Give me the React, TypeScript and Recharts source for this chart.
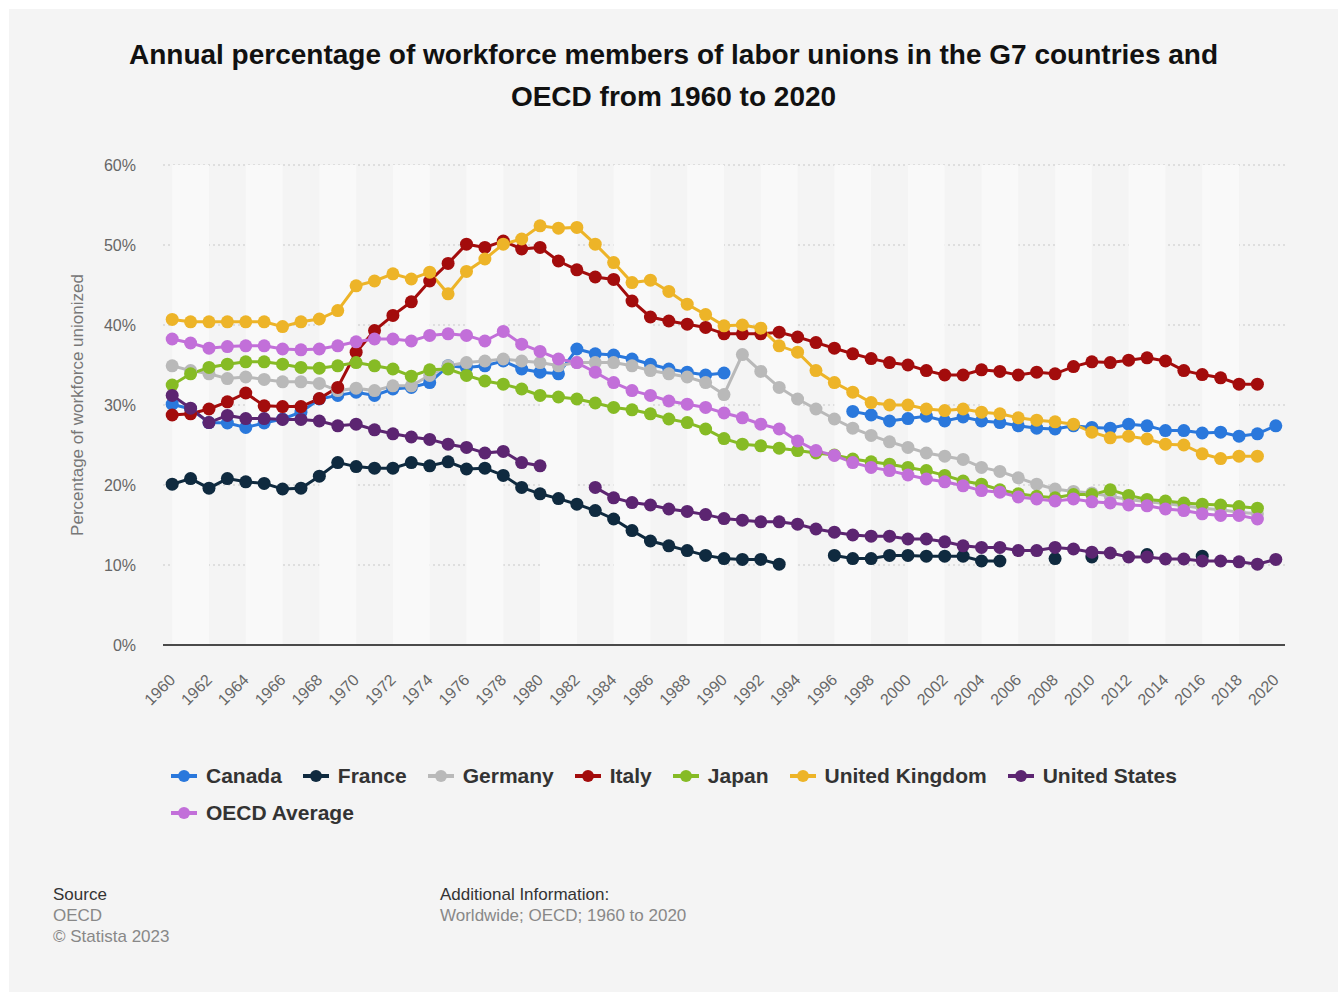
import React from 'react';
import {
  LineChart,
  Line,
  XAxis,
  YAxis,
  CartesianGrid,
  ReferenceArea,
} from 'recharts';

const years = Array.from({ length: 61 }, (_, i) => 1960 + i);

const canada = [
  30.1, 29.5, 27.8, 27.75, 27.2, 27.75, 28.25, 29.1, 30.75, 31.2,
  31.6, 31.2, 32.0, 32.2, 32.8, 34.9, 34.7, 34.9, 35.5, 34.5,
  34.1, 33.9, 37.0, 36.4, 36.25, 35.75, 35.1, 34.5, 34.1, 33.75,
  34.0, null, null, null, null, null, null, 29.2, 28.75, 28.0,
  28.3, 28.6, 28.0, 28.5, 28.0, 27.8, 27.4, 27.1, 27.0, 27.4,
  27.2, 27.1, 27.6, 27.4, 26.8, 26.8, 26.5, 26.6, 26.1, 26.4,
  27.4,
];

const france = [
  20.1, 20.8, 19.6, 20.8, 20.4, 20.2, 19.5, 19.6, 21.1, 22.8,
  22.3, 22.1, 22.1, 22.8, 22.4, 22.9, 22.0, 22.1, 21.2, 19.7,
  18.9, 18.3, 17.6, 16.8, 15.75, 14.3, 13.0, 12.4, 11.8, 11.2,
  10.8, 10.7, 10.7, 10.1, null, null, 11.2, 10.8, 10.8, 11.2,
  11.2, 11.1, 11.1, 11.1, 10.5, 10.5, null, null, 10.8, null,
  11.0, null, null, 11.3, null, null, 11.1, null, null, null,
  null,
];

const germany = [
  34.9, 34.3, 33.9, 33.3, 33.5, 33.2, 32.9, 32.9, 32.7, 31.8,
  32.1, 31.8, 32.4, 32.4, 33.7, 34.9, 35.3, 35.5, 35.75, 35.5,
  35.3, 34.9, 35.3, 35.3, 35.3, 34.9, 34.3, 33.9, 33.5, 32.8,
  31.3, 36.3, 34.2, 32.2, 30.75, 29.5, 28.25, 27.1, 26.2, 25.4,
  24.7, 24.0, 23.6, 23.2, 22.2, 21.7, 20.9, 20.1, 19.5, 19.2,
  19.0, 18.6, 18.2, 17.9, 17.7, 17.4, 17.1, 16.9, 16.6, 16.4,
  null,
];

const italy = [
  28.75, 28.9, 29.5, 30.4, 31.5, 29.9, 29.8, 29.8, 30.8, 32.2,
  36.6, 39.3, 41.2, 42.9, 45.5, 47.7, 50.1, 49.7, 50.5, 49.5,
  49.7, 48.0, 46.9, 46.0, 45.7, 43.0, 41.0, 40.5, 40.1, 39.7,
  38.9, 38.9, 38.9, 39.1, 38.5, 37.8, 37.1, 36.4, 35.8, 35.3,
  35.0, 34.3, 33.75, 33.75, 34.4, 34.2, 33.75, 34.1, 33.9, 34.8,
  35.4, 35.3, 35.6, 35.9, 35.5, 34.3, 33.8, 33.4, 32.6, 32.6,
  null,
];

const japan = [
  32.5, 33.9, 34.7, 35.1, 35.4, 35.4, 35.1, 34.7, 34.6, 34.9,
  35.3, 34.9, 34.5, 33.6, 34.4, 34.5, 33.7, 33.0, 32.6, 32.0,
  31.2, 31.0, 30.75, 30.25, 29.7, 29.4, 28.9, 28.25, 27.8, 27.0,
  25.8, 25.1, 24.9, 24.6, 24.3, 24.0, 23.75, 23.25, 22.9, 22.6,
  22.2, 21.8, 21.2, 20.5, 20.1, 19.4, 18.9, 18.6, 18.4, 18.8,
  18.8, 19.4, 18.7, 18.2, 18.0, 17.75, 17.6, 17.5, 17.3, 17.1,
  null,
];

const unitedKingdom = [
  40.7, 40.4, 40.4, 40.4, 40.4, 40.4, 39.8, 40.4, 40.75, 41.8,
  44.9, 45.5, 46.4, 45.75, 46.6, 43.9, 46.7, 48.25, 50.1, 50.75,
  52.4, 52.1, 52.2, 50.1, 47.8, 45.3, 45.6, 44.2, 42.6, 41.3,
  39.9, 40.0, 39.6, 37.4, 36.6, 34.3, 32.8, 31.6, 30.3, 30.0,
  30.0, 29.5, 29.3, 29.5, 29.1, 28.9, 28.4, 28.1, 27.9, 27.6,
  26.6, 25.9, 26.1, 25.75, 25.1, 25.0, 23.9, 23.3, 23.6, 23.6,
  null,
];

const unitedStates = [
  31.2, 29.6, 27.8, 28.7, 28.3, 28.3, 28.2, 28.2, 28.0, 27.4,
  27.6, 26.9, 26.4, 26.0, 25.7, 25.1, 24.7, 24.0, 24.2, 22.8,
  22.4, null, null, 19.7, 18.4, 17.8, 17.5, 17.0, 16.7, 16.3,
  15.8, 15.6, 15.4, 15.4, 15.1, 14.5, 14.1, 13.75, 13.6, 13.6,
  13.25, 13.25, 12.9, 12.4, 12.2, 12.2, 11.8, 11.8, 12.2, 12.0,
  11.6, 11.5, 11.0, 11.0, 10.75, 10.75, 10.5, 10.5, 10.4, 10.1,
  10.7,
];

const oecdAverage = [
  38.25, 37.75, 37.1, 37.3, 37.4, 37.4, 37.0, 36.9, 37.0, 37.4,
  37.9, 38.25, 38.25, 38.0, 38.7, 38.9, 38.7, 38.0, 39.2, 37.6,
  36.7, 35.75, 35.3, 34.1, 32.8, 31.8, 31.2, 30.5, 30.1, 29.7,
  29.0, 28.4, 27.6, 27.0, 25.5, 24.3, 23.7, 22.8, 22.2, 21.8,
  21.25, 20.75, 20.4, 19.9, 19.3, 19.1, 18.5, 18.25, 18.0, 18.25,
  17.9, 17.75, 17.5, 17.4, 17.0, 16.8, 16.4, 16.2, 16.2, 15.75,
  null,
];

const xTicks = years.filter((y) => y % 2 === 0);
const yTicks = [0, 10, 20, 30, 40, 50, 60];
const bandStarts = years.filter((y) => y % 4 === 0 && y < 2020);

const series = [
  { key: 'canada', name: 'Canada', color: '#2a78dc', values: canada },
  { key: 'france', name: 'France', color: '#0f2a3f', values: france },
  { key: 'germany', name: 'Germany', color: '#b9b9b9', values: germany },
  { key: 'italy', name: 'Italy', color: '#a30c0c', values: italy },
  { key: 'japan', name: 'Japan', color: '#86bb25', values: japan },
  { key: 'uk', name: 'United Kingdom', color: '#edb428', values: unitedKingdom },
  { key: 'us', name: 'United States', color: '#5c2571', values: unitedStates },
  { key: 'oecd', name: 'OECD Average', color: '#c26fd9', values: oecdAverage },
];

const data = years.map((year, i) => {
  const row: Record<string, number | null> = { year };
  series.forEach((s) => {
    row[s.key] = s.values[i];
  });
  return row;
});

const FONT = '"Liberation Sans", Arial, Helvetica, sans-serif';

const YearTick = ({ x, y, payload }: any) => {
  const tx = x + 4;
  const ty = y + 34;
  return (
    <text
      x={tx}
      y={ty}
      textAnchor="end"
      transform={`rotate(-45 ${tx} ${ty})`}
      fill="#666"
      fontSize={16}
      fontFamily={FONT}
    >
      {payload.value}
    </text>
  );
};

const LegendIcon = ({ color }: { color: string }) => (
  <svg width={28} height={14} style={{ marginRight: 8 }}>
    <line x1={1} y1={7} x2={27} y2={7} stroke={color} strokeWidth={4} />
    <circle cx={14} cy={7} r={6} fill={color} />
  </svg>
);

export default function App() {
  return (
    <div
      style={{
        position: 'absolute',
        left: 0,
        top: 0,
        width: 1340,
        height: 994,
        background: '#ffffff',
        fontFamily: FONT,
      }}
    >
      <div
        style={{
          position: 'absolute',
          left: 9,
          top: 9,
          width: 1329,
          height: 983,
          background: '#f4f4f4',
        }}
      />

      <div
        style={{
          position: 'absolute',
          left: 9,
          width: 1329,
          top: 34,
          textAlign: 'center',
          fontWeight: 'bold',
          fontSize: 28,
          lineHeight: '42px',
          color: '#111',
        }}
      >
        Annual percentage of workforce members of labor unions in the G7 countries and
        <br />
        OECD from 1960 to 2020
      </div>

      <div
        style={{
          position: 'absolute',
          left: 78,
          top: 405,
          transform: 'translate(-50%, -50%) rotate(-90deg)',
          whiteSpace: 'nowrap',
          fontSize: 17,
          color: '#777',
        }}
      >
        Percentage of workforce unionized
      </div>

      <div style={{ position: 'absolute', left: 0, top: 0 }}>
        <LineChart
          width={1340}
          height={720}
          data={data}
          margin={{ top: 165, right: 55, bottom: 15, left: 103 }}
        >
          {bandStarts.map((b) => (
            <ReferenceArea
              key={b}
              x1={b}
              x2={b + 2}
              fill="#f9f9f9"
              fillOpacity={1}
              stroke="none"
            />
          ))}
          <CartesianGrid
            vertical={false}
            stroke="#c8c8c8"
            strokeDasharray="2 3"
          />
          <XAxis
            dataKey="year"
            type="number"
            domain={[1959.5, 2020.5]}
            ticks={xTicks}
            interval={0}
            tick={<YearTick />}
            tickLine={false}
            tickSize={0}
            axisLine={{ stroke: '#4a4a4a', strokeWidth: 2 }}
            height={60}
          />
          <YAxis
            domain={[0, 60]}
            ticks={yTicks}
            tickFormatter={(v) => `${v}%`}
            tickLine={false}
            axisLine={false}
            tickSize={0}
            tickMargin={27}
            width={60}
            tick={{ fill: '#666', fontSize: 16, fontFamily: FONT }}
          />
          {series.map((s) => (
            <Line
              key={s.key}
              dataKey={s.key}
              name={s.name}
              stroke={s.color}
              strokeWidth={3}
              dot={{ r: 6.5, fill: s.color, stroke: s.color, strokeWidth: 0 }}
              activeDot={false}
              isAnimationActive={false}
              type="linear"
            />
          ))}
        </LineChart>
      </div>

      <div
        style={{
          position: 'absolute',
          left: 170,
          top: 764,
          width: 1100,
          display: 'flex',
          flexWrap: 'wrap',
          rowGap: 13,
          columnGap: 20,
        }}
      >
        {series.map((s) => (
          <div
            key={s.key}
            style={{
              display: 'flex',
              alignItems: 'center',
              fontSize: 21,
              fontWeight: 'bold',
              color: '#333',
              lineHeight: '24px',
            }}
          >
            <LegendIcon color={s.color} />
            {s.name}
          </div>
        ))}
      </div>

      <div style={{ position: 'absolute', left: 53, top: 884, fontSize: 17, lineHeight: '21px' }}>
        <div style={{ color: '#333' }}>Source</div>
        <div style={{ color: '#888' }}>OECD</div>
        <div style={{ color: '#888' }}>© Statista 2023</div>
      </div>
      <div style={{ position: 'absolute', left: 440, top: 884, fontSize: 17, lineHeight: '21px' }}>
        <div style={{ color: '#333' }}>Additional Information:</div>
        <div style={{ color: '#888' }}>Worldwide; OECD; 1960 to 2020</div>
      </div>
    </div>
  );
}
